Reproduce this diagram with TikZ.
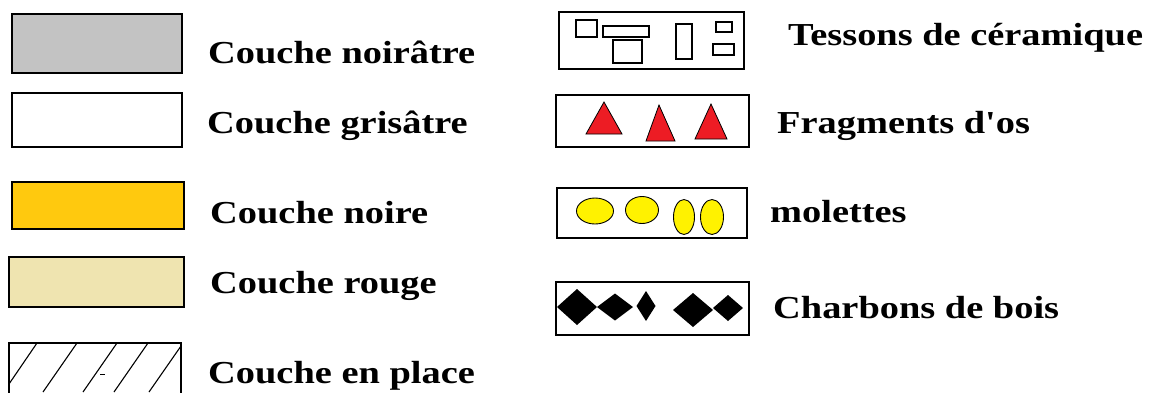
\documentclass[tikz,border=0pt]{standalone}
\usepackage{fontspec}
\setmainfont{Liberation Serif}
\usepackage{graphicx}
\definecolor{greyfill}{HTML}{C3C3C3}
\definecolor{noirefill}{HTML}{FFC90E}
\definecolor{rougefill}{HTML}{EFE4B0}
\definecolor{trired}{HTML}{ED1C24}
\definecolor{ellyellow}{HTML}{FFF200}
\newcommand{\wtxt}[1]{\scalebox{1.2}[1]{#1}}
\tikzset{
  lbl/.style={anchor=base west, inner sep=0pt, font=\fontsize{32}{36}\selectfont\bfseries},
  legbox/.style={draw=black, line width=1.6pt},
  small/.style={draw=black, line width=1.3pt},
  tri/.style={draw=black, line width=0.8pt, fill=trired},
  ell/.style={draw=black, line width=0.9pt, fill=ellyellow},
  dia/.style={fill=black},
  hatch/.style={draw=black, line width=1.1pt}
}
\begin{document}
\begin{tikzpicture}[x=1pt,y=-1pt]
\useasboundingbox (0,0) rectangle (1170,392);
\clip (0,0) rectangle (1170,392);
% left column boxes
\draw[legbox, fill=greyfill] (12,14) rectangle (182,73);
\draw[legbox, fill=white] (12,93) rectangle (182,147);
\draw[legbox, fill=noirefill] (12,182) rectangle (184,229);
\draw[legbox, fill=rougefill] (9,257) rectangle (184,307);
\draw[legbox] (9,343) rectangle (181,400);
\begin{scope}
\clip (9,343) rectangle (181,400);
\draw[hatch] (37,343) -- (9,384);
\draw[hatch] (77,343) -- (43,392);
\draw[hatch] (117,343) -- (83,392);
\draw[hatch] (148,343) -- (114,392);
\draw[hatch] (181,346) -- (149,392);
\end{scope}
\draw[line width=0.8pt] (100,374) -- (105,374);
% left labels
\node[lbl] (l1) at (208,63) {\wtxt{Couche noirâtre}};
\node[lbl] (l2) at (207,133) {\wtxt{Couche grisâtre}};
\node[lbl] (l3) at (210,223) {\wtxt{Couche noire}};
\node[lbl] (l4) at (210,293) {\wtxt{Couche rouge}};
\node[lbl] (l5) at (208,383) {\wtxt{Couche en place}};
% Tessons
\draw[legbox] (559,12) rectangle (744,69);
\draw[small] (576,20) rectangle (597,37);
\draw[small] (603,26) rectangle (649,37);
\draw[small] (613,40) rectangle (642,63);
\draw[small] (676,24) rectangle (692,59);
\draw[small] (716,22) rectangle (732,32);
\draw[small] (713,44) rectangle (734,55);
% Fragments
\draw[legbox] (556,95) rectangle (749,147);
\draw[tri] (604,102) -- (586,134) -- (622,134) -- cycle;
\draw[tri] (659,105) -- (646,141) -- (675,141) -- cycle;
\draw[tri] (711,104) -- (695,139) -- (727,139) -- cycle;
% molettes
\draw[legbox] (557,188) rectangle (747,238);
\draw[ell] (595,211) ellipse [x radius=18.5pt, y radius=13pt];
\draw[ell] (642,210) ellipse [x radius=16.5pt, y radius=13.5pt];
\draw[ell] (684,217) ellipse [x radius=10.5pt, y radius=17.5pt];
\draw[ell] (712,217) ellipse [x radius=11.5pt, y radius=17.5pt];
% charbons
\draw[legbox] (556,282) rectangle (749,335);
\fill[dia] (557,307) -- (577,289) -- (597,307) -- (577,325) -- cycle;
\fill[dia] (597,307) -- (615,293.5) -- (633,307) -- (615,320.5) -- cycle;
\fill[dia] (636.5,306) -- (646,291) -- (655.5,306) -- (646,321) -- cycle;
\fill[dia] (673,310) -- (693,293) -- (713,310) -- (693,327) -- cycle;
\fill[dia] (713,308) -- (728,295) -- (743,308) -- (728,321) -- cycle;
% right labels
\node[lbl] (r1) at (788,45) {\wtxt{Tessons de céramique}};
\node[lbl] (r2) at (777,133) {\wtxt{Fragments d\textquotesingle os}};
\node[lbl] (r3) at (770,222) {\wtxt{molettes}};
\node[lbl] (r4) at (773,318) {\wtxt{Charbons de bois}};
\end{tikzpicture}
\end{document}
